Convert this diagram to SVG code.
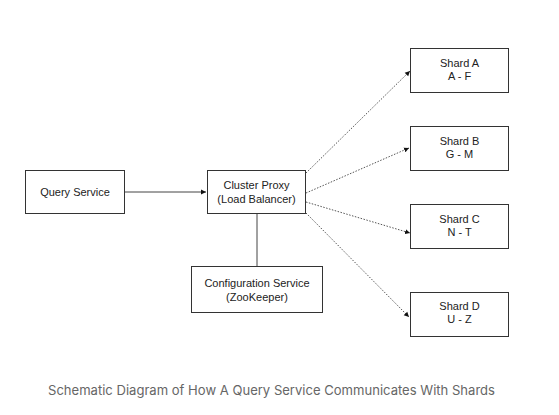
<svg xmlns="http://www.w3.org/2000/svg" width="559" height="415" viewBox="0 0 559 415">
<style>
.box{fill:#fff;stroke:#333;stroke-width:1}
.t{font-family:"Liberation Sans",Arial,sans-serif;font-size:11px;fill:#222;text-anchor:middle}
.solid{stroke:#444;stroke-width:1;fill:none}
.dot{stroke:#555;stroke-width:1;stroke-dasharray:1.5 1.5;fill:none}
.cap{font-family:Inter,"Liberation Sans",sans-serif;font-size:13px;fill:#666}
</style>
<defs>
<marker id="ah" markerWidth="6" markerHeight="6" refX="5" refY="3" orient="auto" markerUnits="userSpaceOnUse">
<path d="M0,0.5 L5,3 L0,5.5 Z" fill="#111"/>
</marker>
</defs>
<rect width="559" height="415" fill="#fff"/>
<g id="connectors">
<line class="solid" x1="125" y1="192" x2="206" y2="192" marker-end="url(#ah)"/>
<line class="solid" x1="257" y1="214" x2="257" y2="266"/>
<line class="dot" x1="306" y1="173" x2="410" y2="71" marker-end="url(#ah)"/>
<line class="dot" x1="306" y1="193" x2="409" y2="148" marker-end="url(#ah)"/>
<line class="dot" x1="306" y1="202" x2="410" y2="233" marker-end="url(#ah)"/>
<line class="dot" x1="306" y1="213" x2="409" y2="317" marker-end="url(#ah)"/>
</g>
<g id="query-service">
<rect class="box" x="25.5" y="170.5" width="99" height="43"/>
<text class="t" x="75" y="196">Query Service</text>
</g>
<g id="cluster-proxy">
<rect class="box" x="207.5" y="170.5" width="98" height="43"/>
<text class="t" x="256.5" y="189">Cluster Proxy</text>
<text class="t" x="256.5" y="203">(Load Balancer)</text>
</g>
<g id="config-service">
<rect class="box" x="191.5" y="266.5" width="131" height="46"/>
<text class="t" x="257" y="287">Configuration Service</text>
<text class="t" x="257" y="301">(ZooKeeper)</text>
</g>
<g id="shard-a">
<rect class="box" x="410.5" y="48.5" width="98" height="44"/>
<text class="t" x="459.5" y="67">Shard A</text>
<text class="t" x="459.5" y="80">A - F</text>
</g>
<g id="shard-b">
<rect class="box" x="410.5" y="126.5" width="98" height="44"/>
<text class="t" x="459.5" y="145">Shard B</text>
<text class="t" x="459.5" y="158">G - M</text>
</g>
<g id="shard-c">
<rect class="box" x="410.5" y="204.5" width="98" height="44"/>
<text class="t" x="459.5" y="223">Shard C</text>
<text class="t" x="459.5" y="236">N - T</text>
</g>
<g id="shard-d">
<rect class="box" x="410.5" y="292.5" width="98" height="44"/>
<text class="t" x="459.5" y="310">Shard D</text>
<text class="t" x="459.5" y="323">U - Z</text>
</g>
<text class="cap" x="48" y="395" textLength="447" lengthAdjust="spacingAndGlyphs">Schematic Diagram of How A Query Service Communicates With Shards</text>
</svg>
